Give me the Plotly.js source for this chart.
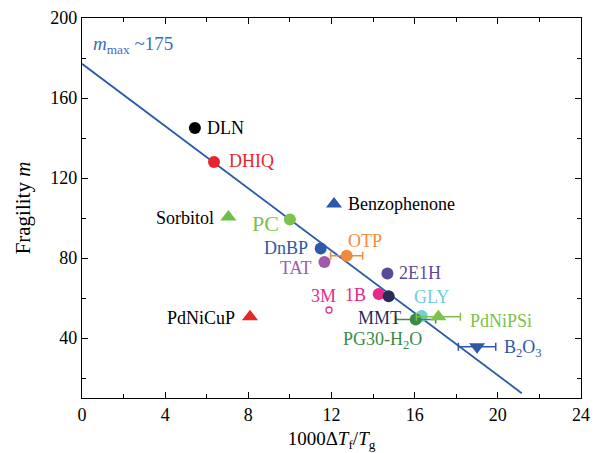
<!DOCTYPE html>
<html>
<head>
<meta charset="utf-8">
<script src="https://cdn.plot.ly/plotly-3.0.1.min.js"></script>
<style>
html,body{margin:0;padding:0;background:#fff;}
#chart{width:606px;height:453px;}
</style>
</head>
<body>
<div id="chart"></div>
<script>
// ---- data ----
var names = ['DLN','DHIQ','Sorbitol','PC','Benzophenone','DnBP','OTP','TAT','2E1H','1B','MMT','GLY','PG30-H<sub>2</sub>O','PdNiPSi','PdNiCuP','B<sub>2</sub>O<sub>3</sub>'];
var xVals = [5.43, 6.35, 7.04, 10.0, 12.12, 11.48, 12.73, 11.66, 14.69, 14.27, 14.75, 16.34, 16.05, 17.14, 8.08, 19.0];
var yVals = [145, 128, 100.5, 99.2, 107, 84.8, 81.1, 78.0, 72.3, 62.0, 60.9, 51.0, 49.3, 50.6, 50.6, 35.6];
var xErr  = [0, 0, 0, 0, 0, 0, 0.77, 0, 0, 0, 0, 0, 0.96, 1.06, 0, 0.9];
var point3MX = [11.88];
var point3MY = [54.0];
var fitX = [0, 21.15];
var fitY = [177.1, 12.4];
var xTicks = [0, 4, 8, 12, 16, 20, 24];
var yTicks = [40, 80, 120, 160, 200];

// ---- styles ----
var serif = 'Liberation Serif, Times New Roman, serif';
var colors = ['#000000','#e8262a','#6cbf46','#7cc24c','#2a5aa8','#2a5aa8','#f08a3c','#a05aa8','#5a4a9c','#e8288a','#2a2a58','#6ccfdc','#3a8a48','#7ac24a','#e8262a','#2a5aa8'];
var symbols = ['circle','circle','triangle-up','circle','triangle-up','circle','circle','circle','circle','circle','circle','circle','circle','triangle-up','triangle-up','triangle-down'];
var labelColors = ['#000000','#e8262a','#000000','#7cc24c','#000000','#2a5aa8','#f08a3c','#a05aa8','#5a4a9c','#e8288a','#2a2a58','#6ccfdc','#3a8a48','#7ac24a','#000000','#2a5aa8'];
// [xanchor, xshift, yshift, fontsize]
var labelPos = [
  ['left', 10, 0, 18],
  ['left', 13, 1, 18],
  ['right', -12, -1, 18],
  ['right', -9, -4, 22],
  ['left', 12, 0, 18],
  ['right', -11, 0, 18],
  ['center', 18, 15, 18],
  ['right', -10, -6, 18],
  ['left', 10, 0, 18],
  ['right', -11, -1, 18],
  ['right', 14, -22, 18],
  ['center', 10, 19, 18],
  ['center', -33, -21, 18],
  ['left', 30, -4, 18],
  ['right', -13, -1, 18],
  ['left', 25, -2, 18]
];

var traces = [];
traces.push({
  x: fitX, y: fitY, mode: 'lines', type: 'scatter',
  line: {color: '#2a5aa8', width: 1.8}, hoverinfo: 'skip', showlegend: false
});
for (var i = 0; i < names.length; i++) {
  var tri = symbols[i] !== 'circle';
  var t = {
    x: [xVals[i]], y: [yVals[i]], mode: 'markers', type: 'scatter', showlegend: false,
    marker: {color: colors[i], symbol: symbols[i], size: tri ? 14 : 12, line: {width: 0}}
  };
  if (xErr[i] > 0) {
    t.error_x = {type: 'data', array: [xErr[i]], visible: true, color: colors[i], thickness: 1.5, width: 4};
  }
  traces.push(t);
}
traces.push({
  x: point3MX, y: point3MY, mode: 'markers', type: 'scatter', showlegend: false,
  marker: {color: '#e8288a', symbol: 'circle-open', size: 6, line: {color: '#e8288a', width: 1.3}}
});

var annotations = [];
for (var j = 0; j < names.length; j++) {
  var p = labelPos[j];
  annotations.push({
    x: xVals[j], y: yVals[j], xref: 'x', yref: 'y', text: names[j], showarrow: false,
    xanchor: p[0], yanchor: 'middle', xshift: p[1], yshift: p[2],
    font: {family: serif, size: p[3], color: labelColors[j]}
  });
}
annotations.push({
  x: point3MX[0], y: point3MY[0], xref: 'x', yref: 'y', text: '3M', showarrow: false,
  xanchor: 'center', yanchor: 'middle', xshift: -6, yshift: 14,
  font: {family: serif, size: 18, color: '#e8288a'}
});
annotations.push({
  x: 0.45, y: 186.3, xref: 'x', yref: 'y', text: '<i>m</i><sub>max</sub> ~175', showarrow: false,
  xanchor: 'left', yanchor: 'middle',
  font: {family: serif, size: 19, color: '#3a6dbf'}
});

var axisCommon = {
  showgrid: false, zeroline: false, showline: true, linecolor: '#000', linewidth: 1.2,
  mirror: 'allticks', ticks: 'inside', ticklen: 6, tickwidth: 1, tickcolor: '#000',
  tickfont: {family: serif, size: 18, color: '#000'}
};

var layout = {
  width: 606, height: 453,
  margin: {l: 82, r: 25, t: 18, b: 55},
  paper_bgcolor: '#fff', plot_bgcolor: '#fff',
  xaxis: Object.assign({}, axisCommon, {
    range: [0, 24], tickmode: 'array', tickvals: xTicks, ticktext: xTicks.map(String),
    minor: {dtick: 2, tick0: 0, ticks: 'inside', ticklen: 4, tickcolor: '#000', showgrid: false},
    title: {text: '1000Δ<i>T</i><sub>f</sub>/<i>T</i><sub>g</sub>', standoff: 8,
      font: {family: serif, size: 19, color: '#000'}}
  }),
  yaxis: Object.assign({}, axisCommon, {
    range: [10, 200], tickmode: 'array', tickvals: yTicks, ticktext: yTicks.map(String),
    minor: {dtick: 20, tick0: 0, ticks: 'inside', ticklen: 4, tickcolor: '#000', showgrid: false},
    title: {text: 'Fragility <i>m</i>', standoff: 13,
      font: {family: serif, size: 21, color: '#000'}}
  }),
  annotations: annotations
};

Plotly.newPlot('chart', traces, layout, {displayModeBar: false, staticPlot: true});
</script>
</body>
</html>
